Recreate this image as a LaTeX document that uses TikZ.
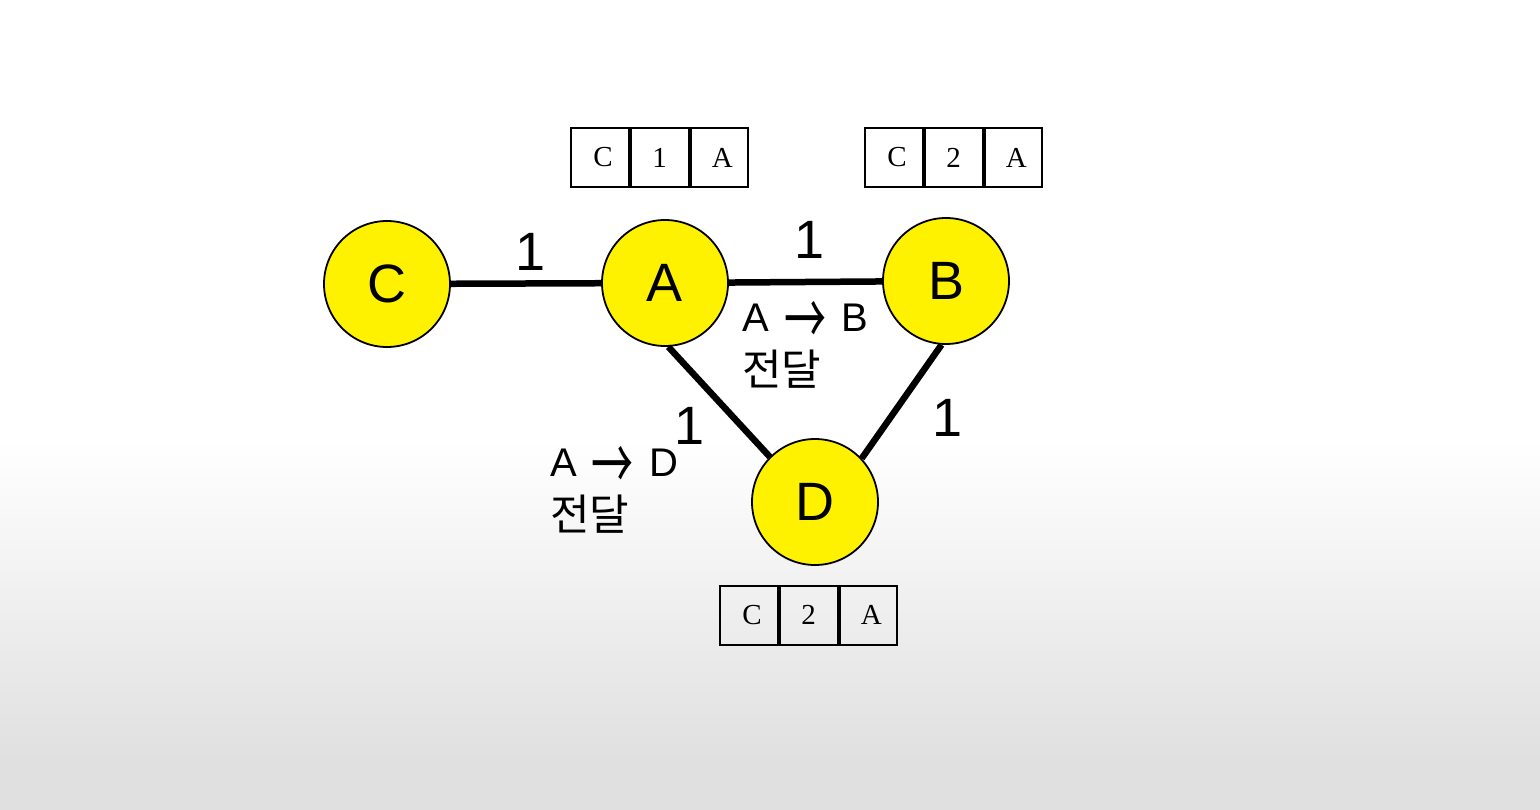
\documentclass[tikz,border=0pt]{standalone}
\usepackage{fontspec}
\setmainfont{Liberation Sans}
\newfontfamily\krfont{Noto Sans CJK KR}
\newfontfamily\serfont{Liberation Serif}
\definecolor{nodeyellow}{RGB}{255,242,0}
\definecolor{bggray}{RGB}{224,224,224}
\newcommand{\bigarrow}{\hspace{4pt}\smash{\raisebox{-14pt}{\scalebox{1.05}[1.8]{\krfont →}}}\hspace{4pt}}
\begin{document}
\begin{tikzpicture}[x=1pt,y=-1pt,
  vertex/.style={circle,draw=black,line width=1.8pt,fill=nodeyellow,minimum size=126pt,inner sep=0pt,font=\fontsize{54}{54}\selectfont},
  link/.style={line width=6.5pt},
  wlabel/.style={font=\fontsize{54}{54}\selectfont,inner sep=0pt},
  note/.style={font=\fontsize{40}{54}\selectfont,align=left,inner sep=0pt,anchor=north west},
  cell/.style={draw=black,line width=2pt,minimum width=57.7pt,minimum height=59pt,inner sep=0pt,font=\serfont\fontsize{29}{29}\selectfont}
]
\useasboundingbox (0,0) rectangle (1540,810);
\fill[white] (0,0) rectangle (1540,810);
\shade[top color=white,bottom color=bggray] (0,440) rectangle (1540,760);
\fill[bggray] (0,759) rectangle (1540,810);

% nodes
\node[vertex] (C) at (387,284) {C};
\node[vertex] (A) at (665,283) {A};
\node[vertex] (B) at (946,281) {B};
\node[vertex] (D) at (815,502) {D};

% edges
\draw[link] (C) -- (A);
\draw[link] (A) -- (B);
\draw[link] (A.-87) -- (D.135);
\draw[link] (B.-94) -- (D.43);

% edge weights
\node[wlabel] (wCA) at (531,252) {1};
\node[wlabel] (wAB) at (810,240) {1};
\node[wlabel] (wAD) at (690,426) {1};
\node[wlabel] (wBD) at (948,418) {1};

% notes
\node[note] (nAB) at (742,304) {A \bigarrow{} B\\{\krfont\fontsize{43}{54}\selectfont 전달}};
\node[note] (nAD) at (550,449) {A \bigarrow{} D\\{\krfont\fontsize{43}{54}\selectfont 전달}};

% tables
\node[cell] (t1a) at (600,157.5) {\hspace{6pt}C};
\node[cell,anchor=west] (t1b) at (t1a.east) {1};
\node[cell,anchor=west] (t1c) at (t1b.east) {\hspace{6pt}A};

\node[cell] (t2a) at (894,157.5) {\hspace{6pt}C};
\node[cell,anchor=west] (t2b) at (t2a.east) {2};
\node[cell,anchor=west] (t2c) at (t2b.east) {\hspace{6pt}A};

\node[cell] (t3a) at (749,615) {\hspace{6pt}C};
\node[cell,anchor=west] (t3b) at (t3a.east) {2};
\node[cell,anchor=west] (t3c) at (t3b.east) {\hspace{6pt}A};
\end{tikzpicture}
\end{document}
